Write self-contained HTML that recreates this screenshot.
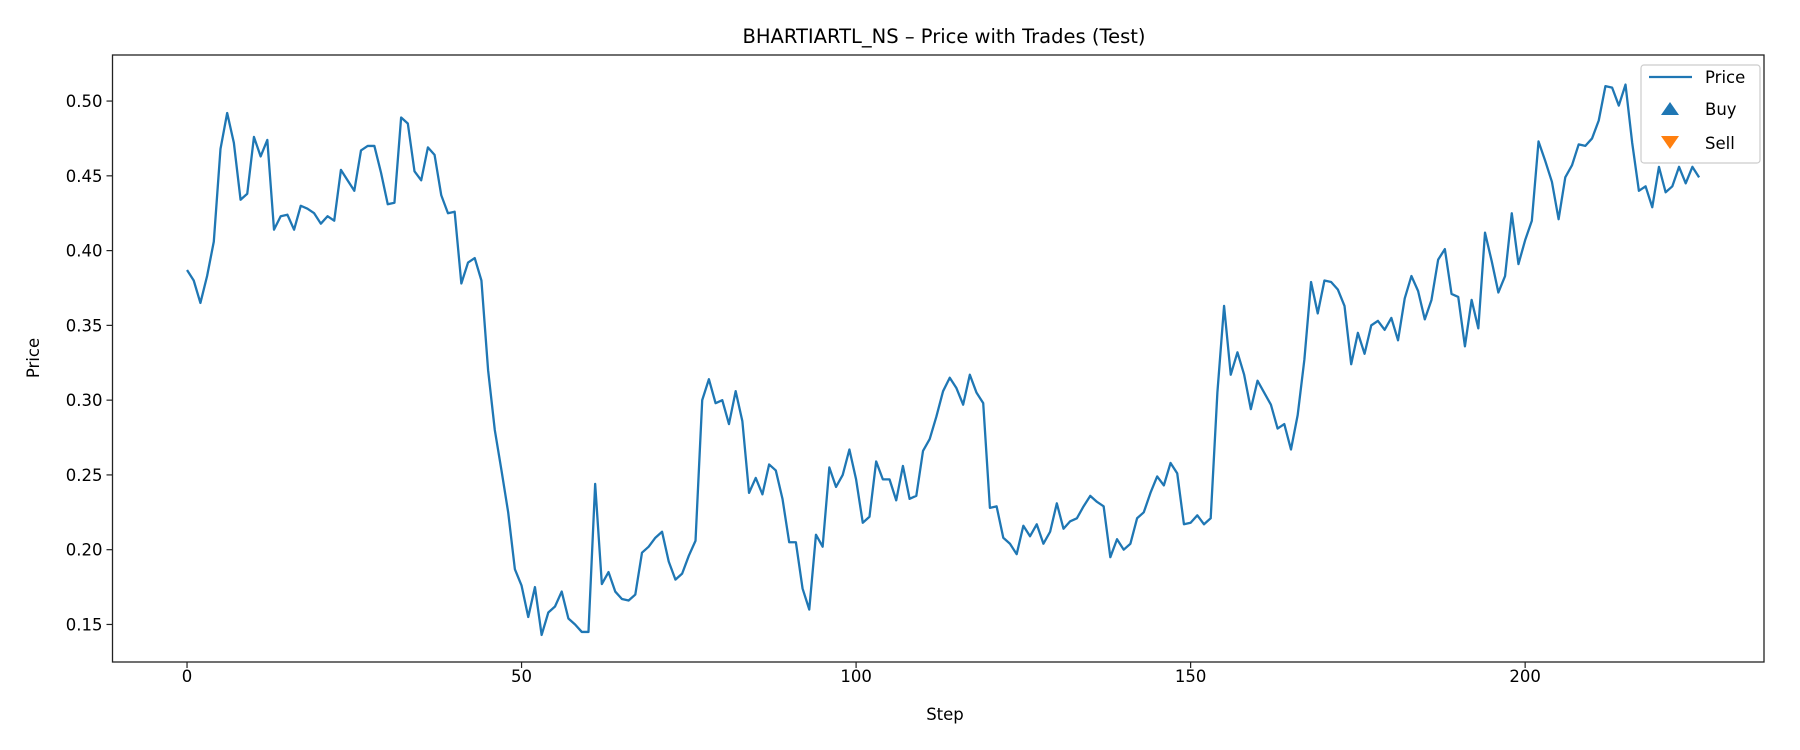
<!DOCTYPE html>
<html><head><meta charset="utf-8"><style>
body{margin:0;background:#fff;}
svg{display:block;font-family:"DejaVu Sans","Liberation Sans",sans-serif;}
</style></head><body>
<svg id="chart" width="1800" height="750" xmlns="http://www.w3.org/2000/svg">
<text x="944" y="43" font-size="19.5" text-anchor="middle">BHARTIARTL_NS – Price with Trades (Test)</text>
<g id="axes"></g>
<path id="priceLine" fill="none" stroke="#1f77b4" stroke-width="2.3" stroke-linejoin="round"></path>
<rect x="112.5" y="55" width="1651.5" height="607" fill="none" stroke="#222" stroke-width="1.3"></rect>
<text x="945" y="720" font-size="16.5" text-anchor="middle">Step</text>
<text transform="translate(39,358) rotate(-90)" font-size="16.5" text-anchor="middle">Price</text>
<g>
<rect x="1641" y="65" width="119" height="98" rx="3" fill="#fff" fill-opacity="0.8" stroke="#ccc" stroke-width="1.2"></rect>
<line x1="1649" y1="77" x2="1692" y2="77" stroke="#1f77b4" stroke-width="2.3"></line>
<text x="1705" y="83" font-size="16.5">Price</text>
<polygon points="1670,102 1679,115 1661,115" fill="#1f77b4"></polygon>
<text x="1705" y="115" font-size="16.5">Buy</text>
<polygon points="1661,136 1679,136 1670,149" fill="#ff7f0e"></polygon>
<text x="1705" y="149" font-size="16.5">Sell</text>
</g>
</svg>
<script>
const prices = [0.387,0.380,0.365,0.383,0.406,0.468,0.492,0.472,0.434,0.438,0.476,0.463,0.474,0.414,0.423,0.424,0.414,0.430,0.428,0.425,0.418,0.423,0.420,0.454,0.447,0.440,0.467,0.470,0.470,0.452,0.431,0.432,0.489,0.485,0.453,0.447,0.469,0.464,0.437,0.425,0.426,0.378,0.392,0.395,0.380,0.320,0.280,0.253,0.225,0.187,0.176,0.155,0.175,0.143,0.158,0.162,0.172,0.154,0.150,0.145,0.145,0.244,0.177,0.185,0.172,0.167,0.166,0.170,0.198,0.202,0.208,0.212,0.192,0.180,0.184,0.196,0.206,0.300,0.314,0.298,0.300,0.284,0.306,0.286,0.238,0.248,0.237,0.257,0.253,0.234,0.205,0.205,0.174,0.160,0.210,0.202,0.255,0.242,0.250,0.267,0.247,0.218,0.222,0.259,0.247,0.247,0.233,0.256,0.234,0.236,0.266,0.274,0.289,0.306,0.315,0.308,0.297,0.317,0.305,0.298,0.228,0.229,0.208,0.204,0.197,0.216,0.209,0.217,0.204,0.212,0.231,0.214,0.219,0.221,0.229,0.236,0.232,0.229,0.195,0.207,0.200,0.204,0.221,0.225,0.238,0.249,0.243,0.258,0.251,0.217,0.218,0.223,0.217,0.221,0.305,0.363,0.317,0.332,0.317,0.294,0.313,0.305,0.297,0.281,0.284,0.267,0.290,0.327,0.379,0.358,0.380,0.379,0.374,0.363,0.324,0.345,0.331,0.350,0.353,0.347,0.355,0.340,0.368,0.383,0.373,0.354,0.367,0.394,0.401,0.371,0.369,0.336,0.367,0.348,0.412,0.393,0.372,0.383,0.425,0.391,0.407,0.420,0.473,0.460,0.446,0.421,0.449,0.457,0.471,0.470,0.475,0.487,0.510,0.509,0.497,0.511,0.472,0.440,0.443,0.429,0.456,0.439,0.443,0.456,0.445,0.456,0.449];
const xTicks = [0,50,100,150,200];
const yTicks = [0.15,0.20,0.25,0.30,0.35,0.40,0.45,0.50];
const xDomain = [-11.14, 235.7];
const yDomain = [0.1249, 0.5308];
const L=112.5,R=1764,T=55,B=662;
function xs(v){return L+(v-xDomain[0])/(xDomain[1]-xDomain[0])*(R-L);}
function ys(v){return B-(v-yDomain[0])/(yDomain[1]-yDomain[0])*(B-T);}
const NS='http://www.w3.org/2000/svg';
const axes=document.getElementById('axes');
xTicks.forEach(t=>{
  const x=xs(t);
  const ln=document.createElementNS(NS,'line');
  ln.setAttribute('x1',x);ln.setAttribute('x2',x);ln.setAttribute('y1',B);ln.setAttribute('y2',B+6);
  ln.setAttribute('stroke','#222');ln.setAttribute('stroke-width','1.2');
  
  
  axes.appendChild(ln);
  const tx=document.createElementNS(NS,'text');
  tx.setAttribute('x',x);tx.setAttribute('y',682);tx.setAttribute('font-size','16.5');tx.setAttribute('text-anchor','middle');
  tx.textContent=t;
  
  
  axes.appendChild(tx);
});
yTicks.forEach(t=>{
  const y=ys(t);
  const ln=document.createElementNS(NS,'line');
  ln.setAttribute('x1',L-6);ln.setAttribute('x2',L);ln.setAttribute('y1',y);ln.setAttribute('y2',y);
  ln.setAttribute('stroke','#222');ln.setAttribute('stroke-width','1.2');
  
  
  axes.appendChild(ln);
  const tx=document.createElementNS(NS,'text');
  tx.setAttribute('x',L-10);tx.setAttribute('y',y+6);tx.setAttribute('font-size','16.5');tx.setAttribute('text-anchor','end');
  tx.textContent=t.toFixed(2);
  
  
  axes.appendChild(tx);
});
document.getElementById('priceLine').setAttribute('d',prices.map((p,i)=>(i?'L':'M')+xs(i).toFixed(2)+','+ys(p).toFixed(2)).join(''));
</script>
</body></html>
